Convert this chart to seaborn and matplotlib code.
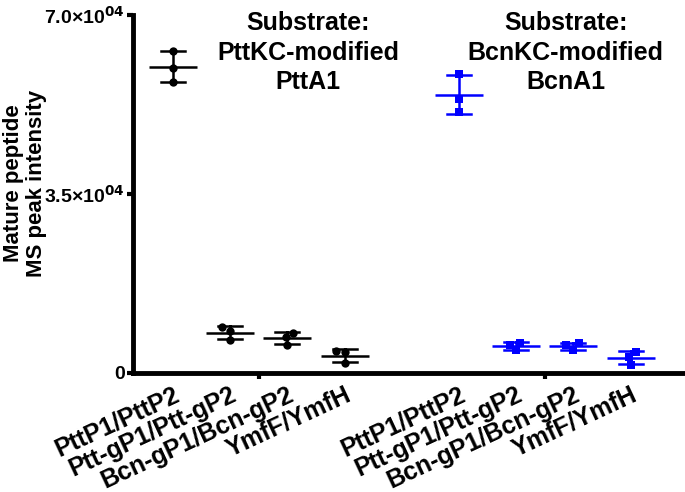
# Mature peptide MS peak intensity for each protease pair, two substrates
import pandas as pd
import matplotlib.pyplot as plt
import seaborn as sns

## Data
pairs = ["PttP1/PttP2", "Ptt-gP1/Ptt-gP2", "Bcn-gP1/Bcn-gP2", "YmfF/YmfH"]
substrates = ["Substrate:\nPttKC-modified\nPttA1", "Substrate:\nBcnKC-modified\nBcnA1"]
ptt_values = [[62950, 56890, 59620], [8990, 6450, 8210], [7900, 5500, 7100], [4200, 4000, 1900]]
bcn_values = [[58500, 53500, 51000], [5900, 5500, 4400], [5800, 5400, 4500], [4100, 3200, 1600]]
y_ticks = [0, 35000, 70000]
y_ticklabels = ["0", "3.5×10$^{04}$", "7.0×10$^{04}$"]

# colors / markers per substrate
PTT_col, BCN_col = "#000000", "#0000FF"

## Build long table, categories need unique keys (labels repeat per substrate)
rows = []
for sub, vals, tag in [(substrates[0], ptt_values, "Ptt"), (substrates[1], bcn_values, "Bcn")]:
    for pair, reps in zip(pairs, vals):
        for v in reps:
            rows.append({"substrate": sub, "key": tag + ":" + pair, "value": v})
df = pd.DataFrame(rows)
# blank spacer category between the two substrates
order = ["Ptt:" + p for p in pairs] + [" "] + ["Bcn:" + p for p in pairs]

plt.rcParams['font.family'] = ['Liberation Sans', 'DejaVu Sans']
plt.rcParams['font.weight'] = 'bold'
plt.rcParams['mathtext.default'] = 'bf'

fig = plt.figure(figsize=(6.85, 4.92), dpi=100)
ax = fig.add_axes([0.194, 0.242, 0.806, 0.728])

for sub, col, mk in [(substrates[0], PTT_col, "o"), (substrates[1], BCN_col, "s")]:
    d = df[df["substrate"] == sub]
    # mean line + SD error bars
    sns.pointplot(data=d, x="key", y="value", order=order, color=col, errorbar="sd",
                  capsize=0.42, marker="_", markersize=34, markeredgewidth=1.8,
                  linestyle="none", err_kws={"linewidth": 1.8}, ax=ax)
    sns.swarmplot(data=d, x="key", y="value", order=order, color=col, marker=mk,
                  size=6, ax=ax, zorder=5)

## Axes styling
ax.set_xlim(-0.7, 8.95)
ax.set_ylim(0, 70000)
ax.set_yticks(y_ticks)
ax.set_yticklabels(y_ticklabels, fontsize=14, fontweight="bold")
pos = [i for i, c in enumerate(order) if c.strip()]
ax.set_xticks(pos)
ax.set_xticklabels([order[i].split(":", 1)[1] for i in pos], rotation=25, ha="right", va="top",
                   rotation_mode="anchor", fontsize=18, fontweight="bold")
ax.tick_params(axis="x", which="major", length=0, pad=7)
ax.set_xticks([1.5, 6.5], minor=True)
ax.tick_params(axis="x", which="minor", length=4, width=3)
ax.tick_params(axis="y", length=4, width=3, pad=2)
ax.set_xlabel("")
ax.set_ylabel("Mature peptide\nMS peak intensity", fontsize=16, fontweight="bold", linespacing=1.15)
ax.yaxis.set_label_coords(-0.155, 0.53)
for s in ["top", "right"]:
    ax.spines[s].set_visible(False)
for s in ["left", "bottom"]:
    ax.spines[s].set_linewidth(3.5)

# substrate headings
fig.text(0.45, 0.978, substrates[0], ha="center", va="top", fontsize=18, fontweight="bold", linespacing=1.3)
fig.text(0.826, 0.978, substrates[1], ha="center", va="top", fontsize=18, fontweight="bold", linespacing=1.3)

plt.savefig("out.png", dpi=100)
plt.close()
